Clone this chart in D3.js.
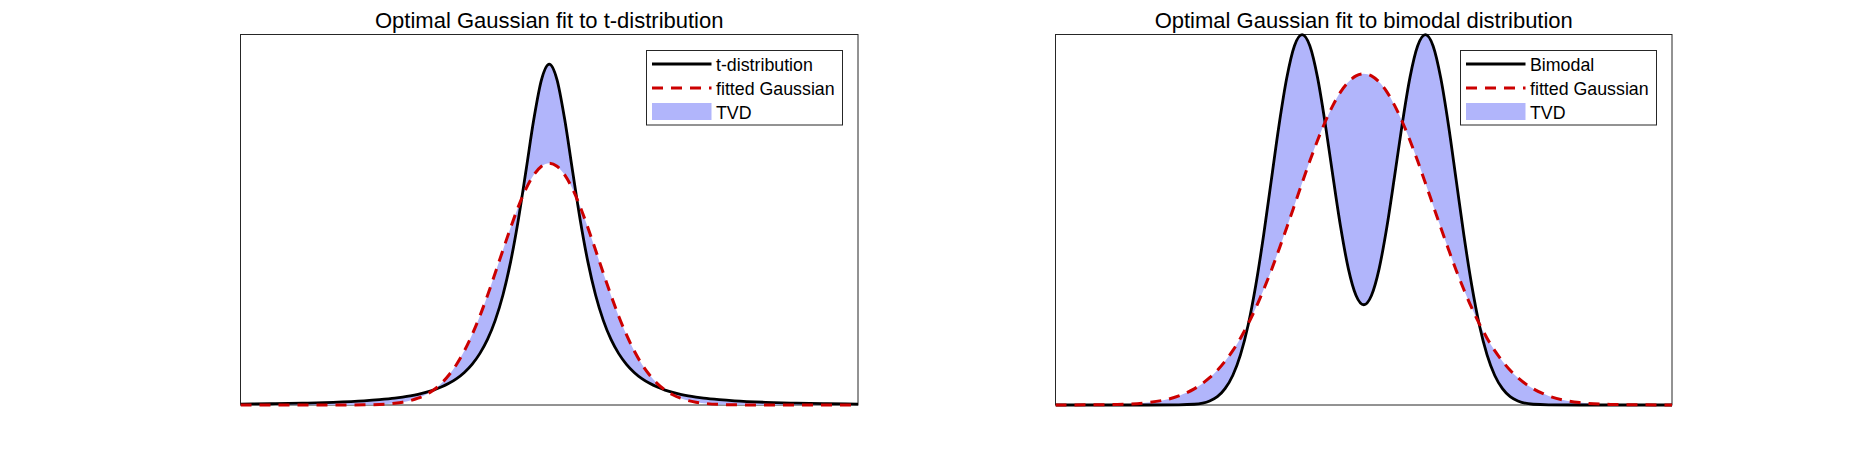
<!DOCTYPE html>
<html>
<head>
<meta charset="utf-8">
<script src="https://cdn.jsdelivr.net/npm/d3@7"></script>
<style>
  body { margin: 0; background: #fff; }
  text { font-family: "Liberation Sans", Arial, sans-serif; fill: #000; }
</style>
</head>
<body>
<svg id="chart" width="1849" height="456"></svg>
<script>
// sample points along x (same grid for both panels)
const xGrid = [-10, -9, -8, -7, -6, -5.5, -5, -4.75, -4.5, -4.25, -4, -3.75, -3.5, -3.25, -3, -2.75, -2.5, -2.25, -2, -1.75, -1.5, -1.25, -1, -0.75, -0.5, -0.25,
  0, 0.25, 0.5, 0.75, 1, 1.25, 1.5, 1.75, 2, 2.25, 2.5, 2.75, 3, 3.25, 3.5, 3.75, 4, 4.25, 4.5, 4.75, 5, 5.5, 6, 7, 8, 9, 10];

// left panel: t-distribution and its fitted gaussian
const tDist = [0.0010, 0.0013, 0.0019, 0.0028, 0.0043, 0.0055, 0.0071, 0.0082, 0.0095, 0.0111, 0.0131, 0.0155, 0.0186, 0.0225, 0.0274, 0.0338, 0.0422, 0.0533, 0.0680, 0.0878, 0.1141, 0.1487, 0.1925, 0.2438, 0.2963, 0.3376,
  0.3536, 0.3376, 0.2963, 0.2438, 0.1925, 0.1487, 0.1141, 0.0878, 0.0680, 0.0533, 0.0422, 0.0338, 0.0274, 0.0225, 0.0186, 0.0155, 0.0131, 0.0111, 0.0095, 0.0082, 0.0071, 0.0055, 0.0043, 0.0028, 0.0019, 0.0013, 0.0010];
const tFit = [0, 0, 0, 0, 0.0002, 0.0006, 0.0018, 0.0029, 0.0046, 0.0071, 0.0106, 0.0155, 0.0222, 0.0311, 0.0423, 0.0562, 0.0729, 0.0921, 0.1137, 0.1369, 0.1607, 0.1841, 0.2058, 0.2244, 0.2387, 0.2477,
  0.2508, 0.2477, 0.2387, 0.2244, 0.2058, 0.1841, 0.1607, 0.1369, 0.1137, 0.0921, 0.0729, 0.0562, 0.0423, 0.0311, 0.0222, 0.0155, 0.0106, 0.0071, 0.0046, 0.0029, 0.0018, 0.0006, 0.0002, 0, 0, 0, 0];

// right panel: bimodal and its fitted gaussian
const biDist = [0, 0, 0, 0, 0.0001, 0.0004, 0.0022, 0.0045, 0.0088, 0.0159, 0.0270, 0.0431, 0.0648, 0.0913, 0.1210, 0.1506, 0.1760, 0.1934, 0.1995, 0.1935, 0.1765, 0.1516, 0.1232, 0.0959, 0.0735, 0.0590,
  0.0540, 0.0590, 0.0735, 0.0959, 0.1232, 0.1516, 0.1765, 0.1935, 0.1995, 0.1934, 0.1760, 0.1506, 0.1210, 0.0913, 0.0648, 0.0431, 0.0270, 0.0159, 0.0088, 0.0045, 0.0022, 0.0004, 0.0001, 0, 0, 0, 0];
const biFit = [0, 0.0001, 0.0003, 0.0013, 0.0049, 0.0087, 0.0147, 0.0187, 0.0236, 0.0293, 0.0360, 0.0437, 0.0524, 0.0621, 0.0725, 0.0838, 0.0955, 0.1075, 0.1196, 0.1314, 0.1425, 0.1526, 0.1614, 0.1687, 0.1740, 0.1773,
  0.1784, 0.1773, 0.1740, 0.1687, 0.1614, 0.1526, 0.1425, 0.1314, 0.1196, 0.1075, 0.0955, 0.0838, 0.0725, 0.0621, 0.0524, 0.0437, 0.0360, 0.0293, 0.0236, 0.0187, 0.0147, 0.0087, 0.0049, 0.0013, 0.0003, 0.0001, 0];

const titles = ["Optimal Gaussian fit to t-distribution", "Optimal Gaussian fit to bimodal distribution"];
const legendLeft = ["t-distribution", "fitted Gaussian", "TVD"];
const legendRight = ["Bimodal", "fitted Gaussian", "TVD"];
const xDomain = [-10, 10];
const yMaxLeft = 0.3843;
const yMaxRight = 0.1996;

const svg = d3.select("#chart");
svg.append("rect").attr("width", 1849).attr("height", 456).attr("fill", "#fff");

function drawPanel(o) {
    const x = d3.scaleLinear().domain(xDomain).range([o.left, o.right]);
    const y = d3.scaleLinear().domain([0, o.ymax]).range([o.bottom, o.top]);
    const pts = xGrid.map((v, i) => ({x: v, d: o.dist[i], f: o.fit[i]}));
    const g = svg.append("g");

    const clipId = "clip" + o.id;
    g.append("clipPath").attr("id", clipId)
        .append("rect")
        .attr("x", o.left).attr("y", o.top - 2)
        .attr("width", o.right - o.left).attr("height", o.bottom - o.top + 6);

    // axes box
    g.append("rect")
        .attr("x", o.left).attr("y", o.top)
        .attr("width", o.right - o.left).attr("height", o.bottom - o.top)
        .attr("fill", "none").attr("stroke", "#262626").attr("stroke-width", 1);

    const plot = g.append("g").attr("clip-path", `url(#${clipId})`);

    // TVD region between the two curves
    const area = d3.area()
        .x(d => x(d.x))
        .y0(d => y(d.f))
        .y1(d => y(d.d))
        .curve(d3.curveMonotoneX);
    plot.append("path")
        .attr("d", area(pts))
        .attr("fill", "#b1b5fb");

    const lineD = d3.line().x(d => x(d.x)).y(d => y(d.d)).curve(d3.curveMonotoneX);
    const lineF = d3.line().x(d => x(d.x)).y(d => y(d.f)).curve(d3.curveMonotoneX);
    plot.append("path")
        .attr("d", lineD(pts))
        .attr("fill", "none").attr("stroke", "#000").attr("stroke-width", 2.8);
    plot.append("path")
        .attr("d", lineF(pts))
        .attr("fill", "none").attr("stroke", "#cc0000").attr("stroke-width", 3)
        .attr("stroke-dasharray", "11,8");

    // title
    svg.append("text")
        .attr("x", (o.left + o.right) / 2).attr("y", 28)
        .attr("text-anchor", "middle")
        .style("font-size", "22px")
        .text(o.title);

    // legend
    const lg = svg.append("g");
    lg.append("rect")
        .attr("x", o.legX).attr("y", 50.5)
        .attr("width", 196).attr("height", 74.5)
        .attr("fill", "#fff").attr("stroke", "#262626").attr("stroke-width", 1);
    const sx0 = o.legX + 5.5, sx1 = o.legX + 65;
    lg.append("line").attr("x1", sx0).attr("x2", sx1).attr("y1", 64).attr("y2", 64)
        .attr("stroke", "#000").attr("stroke-width", 2.8);
    lg.append("line").attr("x1", sx0).attr("x2", sx1).attr("y1", 88).attr("y2", 88)
        .attr("stroke", "#cc0000").attr("stroke-width", 3).attr("stroke-dasharray", "11,8");
    lg.append("rect").attr("x", sx0).attr("y", 103).attr("width", sx1 - sx0).attr("height", 17)
        .attr("fill", "#b1b5fb");
    lg.selectAll("text.lab")
        .data(o.labels)
        .join("text")
        .attr("class", "lab")
        .attr("x", o.legX + 69.5)
        .attr("y", (d, i) => 70.5 + i * 24.3)
        .style("font-size", "17.8px")
        .text(d => d);
}

drawPanel({id: 1, left: 240.5, right: 858, top: 34.5, bottom: 405, ymax: yMaxLeft,
    dist: tDist, fit: tFit, title: titles[0], labels: legendLeft, legX: 646.5});
drawPanel({id: 2, left: 1055.5, right: 1672, top: 34.5, bottom: 405, ymax: yMaxRight,
    dist: biDist, fit: biFit, title: titles[1], labels: legendRight, legX: 1460.5});
</script>
</body>
</html>
